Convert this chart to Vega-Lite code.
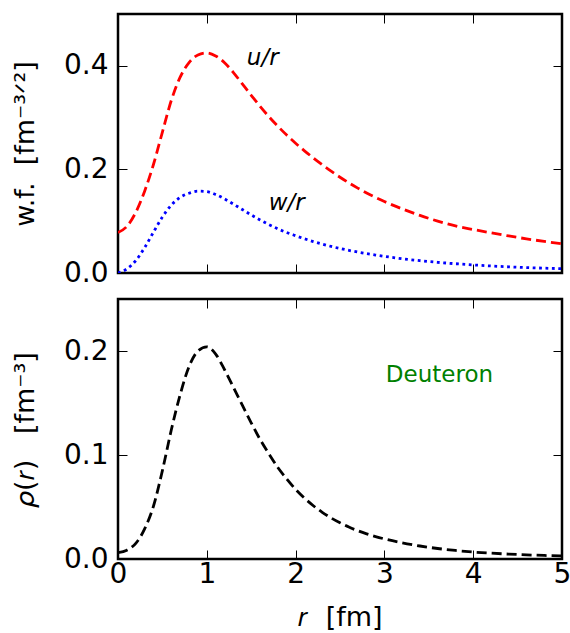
{
  "$schema": "https://vega.github.io/schema/vega-lite/v6.json",
  "padding": {"left": 10, "top": 12, "right": 8, "bottom": 5},
  "spacing": 8,
  "datasets": {
    "u": [
      {"r": 0.0, "v": 0.078}, {"r": 0.1, "v": 0.090}, {"r": 0.2, "v": 0.117}, {"r": 0.3, "v": 0.158},
      {"r": 0.4, "v": 0.210}, {"r": 0.5, "v": 0.272}, {"r": 0.6, "v": 0.333}, {"r": 0.7, "v": 0.378},
      {"r": 0.8, "v": 0.406}, {"r": 0.9, "v": 0.421}, {"r": 1.0, "v": 0.425}, {"r": 1.1, "v": 0.419},
      {"r": 1.2, "v": 0.406}, {"r": 1.3, "v": 0.387}, {"r": 1.4, "v": 0.365}, {"r": 1.5, "v": 0.343},
      {"r": 1.6, "v": 0.3217}, {"r": 1.7, "v": 0.3018}, {"r": 1.8, "v": 0.2833}, {"r": 1.9, "v": 0.2662},
      {"r": 2.0, "v": 0.2505}, {"r": 2.1, "v": 0.2359}, {"r": 2.2, "v": 0.2220}, {"r": 2.3, "v": 0.2089},
      {"r": 2.4, "v": 0.1965}, {"r": 2.5, "v": 0.1849}, {"r": 2.6, "v": 0.1740}, {"r": 2.7, "v": 0.1639},
      {"r": 2.8, "v": 0.1545}, {"r": 2.9, "v": 0.1459}, {"r": 3.0, "v": 0.1380}, {"r": 3.2, "v": 0.1238},
      {"r": 3.4, "v": 0.1112}, {"r": 3.6, "v": 0.1002}, {"r": 3.8, "v": 0.0908}, {"r": 4.0, "v": 0.0840},
      {"r": 4.2, "v": 0.0775}, {"r": 4.4, "v": 0.0715}, {"r": 4.6, "v": 0.0660}, {"r": 4.8, "v": 0.0610},
      {"r": 5.0, "v": 0.0565}
    ],
    "w": [
      {"r": 0.0, "v": 0.000}, {"r": 0.1, "v": 0.008}, {"r": 0.2, "v": 0.024}, {"r": 0.3, "v": 0.049},
      {"r": 0.4, "v": 0.079}, {"r": 0.5, "v": 0.108}, {"r": 0.6, "v": 0.131}, {"r": 0.7, "v": 0.146},
      {"r": 0.8, "v": 0.154}, {"r": 0.9, "v": 0.158}, {"r": 1.0, "v": 0.1570}, {"r": 1.1, "v": 0.1515},
      {"r": 1.2, "v": 0.1430}, {"r": 1.3, "v": 0.1330}, {"r": 1.4, "v": 0.1225}, {"r": 1.5, "v": 0.1122},
      {"r": 1.6, "v": 0.1025}, {"r": 1.7, "v": 0.0935}, {"r": 1.8, "v": 0.0853}, {"r": 1.9, "v": 0.0782},
      {"r": 2.0, "v": 0.0720}, {"r": 2.1, "v": 0.0660}, {"r": 2.2, "v": 0.0606}, {"r": 2.3, "v": 0.0557},
      {"r": 2.4, "v": 0.0513}, {"r": 2.5, "v": 0.0473}, {"r": 2.6, "v": 0.0437}, {"r": 2.7, "v": 0.0404},
      {"r": 2.8, "v": 0.0374}, {"r": 2.9, "v": 0.0347}, {"r": 3.0, "v": 0.0322}, {"r": 3.2, "v": 0.0276},
      {"r": 3.4, "v": 0.0238}, {"r": 3.6, "v": 0.0206}, {"r": 3.8, "v": 0.0179}, {"r": 4.0, "v": 0.0156},
      {"r": 4.2, "v": 0.0136}, {"r": 4.4, "v": 0.0119}, {"r": 4.6, "v": 0.0105}, {"r": 4.8, "v": 0.0093},
      {"r": 5.0, "v": 0.0083}
    ],
    "rho": [
      {"r": 0.0, "v": 0.0061}, {"r": 0.1, "v": 0.0085}, {"r": 0.2, "v": 0.0150}, {"r": 0.3, "v": 0.029},
      {"r": 0.4, "v": 0.051}, {"r": 0.5, "v": 0.085}, {"r": 0.6, "v": 0.124}, {"r": 0.7, "v": 0.158},
      {"r": 0.8, "v": 0.185}, {"r": 0.9, "v": 0.200}, {"r": 1.0, "v": 0.204}, {"r": 1.1, "v": 0.197},
      {"r": 1.2, "v": 0.182}, {"r": 1.3, "v": 0.165}, {"r": 1.4, "v": 0.148}, {"r": 1.5, "v": 0.131},
      {"r": 1.6, "v": 0.115}, {"r": 1.7, "v": 0.101}, {"r": 1.8, "v": 0.088}, {"r": 1.9, "v": 0.0770},
      {"r": 2.0, "v": 0.0670}, {"r": 2.1, "v": 0.0585}, {"r": 2.2, "v": 0.0512}, {"r": 2.3, "v": 0.0449},
      {"r": 2.4, "v": 0.0395}, {"r": 2.5, "v": 0.0348}, {"r": 2.6, "v": 0.0307}, {"r": 2.7, "v": 0.0272},
      {"r": 2.8, "v": 0.0242}, {"r": 2.9, "v": 0.0216}, {"r": 3.0, "v": 0.0193}, {"r": 3.2, "v": 0.0155},
      {"r": 3.4, "v": 0.0125}, {"r": 3.6, "v": 0.0101}, {"r": 3.8, "v": 0.0082}, {"r": 4.0, "v": 0.0067},
      {"r": 4.2, "v": 0.0056}, {"r": 4.4, "v": 0.0047}, {"r": 4.6, "v": 0.0040}, {"r": 4.8, "v": 0.0034},
      {"r": 5.0, "v": 0.0029}
    ]
  },
  "vconcat": [
    {
      "width": 444,
      "height": 259,
      "layer": [
        {
          "data": {"name": "u"},
          "mark": {"type": "line", "color": "#ff0000", "strokeWidth": 2.8, "strokeDash": [10, 5], "interpolate": "monotone", "clip": true},
          "encoding": {
            "x": {"field": "r", "type": "quantitative", "scale": {"domain": [0, 5], "nice": false},
                  "axis": {"orient": "bottom", "values": [0, 1, 2, 3, 4, 5], "labels": false, "title": null}},
            "y": {"field": "v", "type": "quantitative", "scale": {"domain": [0, 0.5], "nice": false},
                  "axis": {"orient": "left", "values": [0, 0.2, 0.4], "format": ".1f", "title": "w.f.\u00a0\u00a0[fm⁻³ᐟ²]"}}
          }
        },
        {
          "data": {"name": "w"},
          "mark": {"type": "line", "color": "#0000ff", "strokeWidth": 2.8, "strokeDash": [2.8, 3.6], "interpolate": "monotone", "clip": true},
          "encoding": {
            "x": {"field": "r", "type": "quantitative",
                  "axis": {"orient": "top", "values": [0, 1, 2, 3, 4, 5], "labels": false, "title": null}},
            "y": {"field": "v", "type": "quantitative",
                  "axis": {"orient": "right", "values": [0, 0.2, 0.4], "labels": false, "title": null}}
          }
        },
        {
          "data": {"values": [{}]},
          "mark": {"type": "text", "font": "DejaVu Sans", "fontStyle": "italic", "fontSize": 23, "color": "black"},
          "encoding": {
            "x": {"datum": 1.63, "type": "quantitative", "axis": null},
            "y": {"datum": 0.415, "type": "quantitative", "axis": null},
            "text": {"value": "u/r"}
          }
        },
        {
          "data": {"values": [{}]},
          "mark": {"type": "text", "font": "DejaVu Sans", "fontStyle": "italic", "fontSize": 23, "color": "black"},
          "encoding": {
            "x": {"datum": 1.9, "type": "quantitative", "axis": null},
            "y": {"datum": 0.135, "type": "quantitative", "axis": null},
            "text": {"value": "w/r"}
          }
        }
      ],
      "resolve": {"axis": {"x": "independent", "y": "independent"}}
    },
    {
      "width": 444,
      "height": 260,
      "layer": [
        {
          "data": {"name": "rho"},
          "mark": {"type": "line", "color": "black", "strokeWidth": 2.8, "strokeDash": [10, 5], "interpolate": "monotone", "clip": true},
          "encoding": {
            "x": {"field": "r", "type": "quantitative", "scale": {"domain": [0, 5], "nice": false},
                  "axis": {"orient": "bottom", "values": [0, 1, 2, 3, 4, 5], "format": "d", "labelPadding": 10, "titlePadding": 16, "title": "𝑟\u00a0\u00a0[fm]"}},
            "y": {"field": "v", "type": "quantitative", "scale": {"domain": [0, 0.25], "nice": false},
                  "axis": {"orient": "left", "values": [0, 0.1, 0.2], "format": ".1f", "title": "𝜌(𝑟)\u00a0\u00a0\u00a0[fm⁻³]"}}
          }
        },
        {
          "data": {"values": [{}]},
          "mark": {"type": "text", "font": "DejaVu Sans", "fontSize": 23, "color": "#008000"},
          "encoding": {
            "x": {"datum": 3.62, "type": "quantitative",
                  "axis": {"orient": "top", "values": [0, 1, 2, 3, 4, 5], "labels": false, "title": null}},
            "y": {"datum": 0.1774, "type": "quantitative",
                  "axis": {"orient": "right", "values": [0, 0.1, 0.2], "labels": false, "title": null}},
            "text": {"value": "Deuteron"}
          }
        }
      ],
      "resolve": {"axis": {"x": "independent", "y": "independent"}}
    }
  ],
  "config": {
    "view": {"stroke": "black", "strokeWidth": 2.5},
    "axis": {
      "domain": false,
      "grid": false,
      "tickSize": -9,
      "tickColor": "black",
      "tickWidth": 1,
      "labelFont": "DejaVu Sans",
      "labelFontSize": 28,
      "labelColor": "black",
      "labelFlush": false,
      "labelOverlap": false,
      "labelPadding": 19,
      "titleFont": "DejaVu Sans",
      "titleFontSize": 27,
      "titleFontWeight": "normal",
      "titleColor": "black",
      "titlePadding": 24
    }
  }
}
